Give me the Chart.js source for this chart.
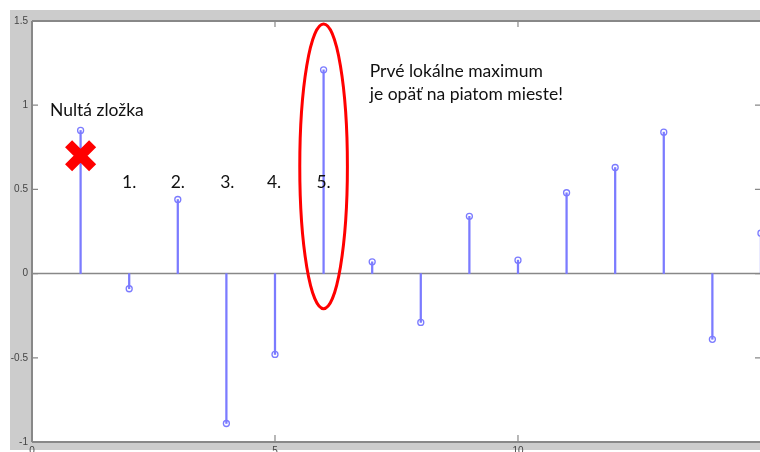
<!DOCTYPE html>
<html>
<head>
<meta charset="utf-8">
<script src="https://cdn.jsdelivr.net/npm/chart.js@4/dist/chart.umd.min.js"></script>
<style>
  html, body { margin: 0; padding: 0; background: #fff; overflow: hidden; }
  #wrap { position: absolute; left: 0; top: 0; width: 760px; height: 452px; }
</style>
</head>
<body>
<div id="wrap"><canvas id="grafico" width="760" height="452"></canvas></div>
<script>
// datos del stem plot
const indices = [1, 2, 3, 4, 5, 6, 7, 8, 9, 10, 11, 12, 13, 14, 15];
const valores = [0.85, -0.09, 0.44, -0.89, -0.48, 1.21, 0.07, -0.29, 0.34, 0.08, 0.48, 0.63, 0.84, -0.39, 0.24];
const xTicks = [0, 5, 10];
const yTicks = [-1, -0.5, 0, 0.5, 1, 1.5];

// anotaciones (en coordenadas de datos)
const poradie = ["1.", "2.", "3.", "4.", "5."];
const poradieX = [2, 3, 4.02, 4.98, 6];
const poradieY = 0.54;
const nadpis = "Nultá zložka";
const nadpisPos = [0.37, 0.97];
const poznamka = ["Prvé lokálne maximum", "je opäť na piatom mieste!"];
const poznamkaPos = [6.95, 1.2];
const krizik = [{ x: 1, y: 0.70 }];
const elipsa = { x: 6, y: 0.637, rx: 0.49, ry: 0.845 };

const modra = "#7b7bff";
const siva = "#888888";

const frame = {
  id: "frame",
  beforeDraw(c) {
    const { ctx, chartArea: a } = c;
    ctx.save();
    ctx.fillStyle = "#fff";
    ctx.fillRect(0, 0, c.width, c.height);
    ctx.fillStyle = "#cccccc";
    ctx.fillRect(10, 10, c.width - 10, 440);
    ctx.fillStyle = "#fff";
    ctx.fillRect(a.left, a.top, c.width - a.left, a.bottom - a.top);
    ctx.restore();
  },
  beforeDatasetsDraw(c) {
    const { ctx, chartArea: a, scales } = c;
    const y0 = scales.y.getPixelForValue(0);
    ctx.save();
    ctx.strokeStyle = siva;
    ctx.lineWidth = 1.5;
    ctx.beginPath();
    ctx.moveTo(a.left, y0);
    ctx.lineTo(c.width, y0);
    ctx.stroke();
    ctx.restore();
  },
  afterDatasetsDraw(c) {
    const { ctx, chartArea: a, scales } = c;
    const sx = scales.x, sy = scales.y;
    const r = sx.getPixelForValue(15);
    ctx.save();
    // ram osi
    ctx.strokeStyle = siva;
    ctx.lineWidth = 2;
    ctx.beginPath();
    ctx.moveTo(a.left, a.top); ctx.lineTo(c.width, a.top);
    ctx.moveTo(a.left, a.bottom); ctx.lineTo(c.width, a.bottom);
    ctx.moveTo(a.left, a.top); ctx.lineTo(a.left, a.bottom);
    ctx.stroke();
    // tick marks hacia adentro
    ctx.lineWidth = 1.2;
    ctx.beginPath();
    yTicks.forEach((v) => {
      const y = sy.getPixelForValue(v);
      ctx.moveTo(a.left, y); ctx.lineTo(a.left + 6, y);
      ctx.moveTo(r, y); ctx.lineTo(r - 6, y);
    });
    xTicks.forEach((v) => {
      const x = sx.getPixelForValue(v);
      ctx.moveTo(x, a.top); ctx.lineTo(x, a.top + 6);
      ctx.moveTo(x, a.bottom); ctx.lineTo(x, a.bottom - 7);
    });
    ctx.stroke();

    // elipsa
    ctx.strokeStyle = "#ff0000";
    ctx.lineWidth = 3;
    ctx.beginPath();
    const ex = sx.getPixelForValue(elipsa.x), ey = sy.getPixelForValue(elipsa.y);
    const rx = sx.getPixelForValue(elipsa.x + elipsa.rx) - ex;
    const ry = ey - sy.getPixelForValue(elipsa.y + elipsa.ry);
    ctx.ellipse(ex, ey, rx, ry, 0, 0, Math.PI * 2);
    ctx.stroke();

    // textos
    ctx.fillStyle = "#111";
    ctx.font = "17.5px Lato";
    ctx.textBaseline = "middle";
    ctx.textAlign = "center";
    poradie.forEach((t, i) => {
      ctx.fillText(t, sx.getPixelForValue(poradieX[i]), sy.getPixelForValue(poradieY));
    });
    ctx.textAlign = "left";
    ctx.fillText(nadpis, sx.getPixelForValue(nadpisPos[0]), sy.getPixelForValue(nadpisPos[1]));
    const px = sx.getPixelForValue(poznamkaPos[0]);
    const py = sy.getPixelForValue(poznamkaPos[1]);
    poznamka.forEach((t, i) => ctx.fillText(t, px, py + i * 23));
    ctx.restore();
  },
};

new Chart(document.getElementById("grafico"), {
  type: "bar",
  data: {
    datasets: [
      {
        type: "scatter",
        data: krizik,
        pointStyle: "crossRot",
        radius: 17,
        borderWidth: 10,
        borderColor: "#ff0000",
        order: 0,
      },
      {
        type: "scatter",
        data: indices.map((x, i) => ({ x, y: valores[i] })),
        pointStyle: "circle",
        radius: 3,
        borderWidth: 1.3,
        borderColor: modra,
        backgroundColor: "rgba(255,255,255,0)",
        clip: 8,
        order: 1,
      },
      {
        type: "bar",
        data: indices.map((x, i) => ({ x, y: valores[i] })),
        backgroundColor: modra,
        barThickness: 1.6,
        clip: 8,
        order: 2,
      },
    ],
  },
  options: {
    responsive: false,
    animation: false,
    events: [],
    layout: { autoPadding: false, padding: { top: 21, right: 0, left: 0, bottom: 0 } },
    plugins: { legend: { display: false }, tooltip: { enabled: false } },
    scales: {
      x: {
        type: "linear",
        min: 0,
        max: 14.98,
        offset: false,
        grid: { display: false, drawTicks: false, offset: false },
        border: { display: false },
        afterBuildTicks: (s) => { s.ticks = xTicks.map((v) => ({ value: v })); },
        afterFit: (s) => { s.height = 10; },
        ticks: {
          autoSkip: false,
          maxRotation: 0,
          padding: 3,
          color: "#444",
          font: { family: "Liberation Sans", size: 10 },
          callback: (v) => String(v),
        },
      },
      y: {
        min: -1,
        max: 1.5,
        grid: { display: false, drawTicks: false },
        border: { display: false },
        afterBuildTicks: (s) => { s.ticks = yTicks.map((v) => ({ value: v })); },
        afterFit: (s) => { s.width = 32; },
        ticks: {
          padding: 4,
          color: "#444",
          font: { family: "Liberation Sans", size: 10 },
          callback: (v) => String(v),
        },
      },
    },
  },
  plugins: [frame],
});
</script>
</body>
</html>
